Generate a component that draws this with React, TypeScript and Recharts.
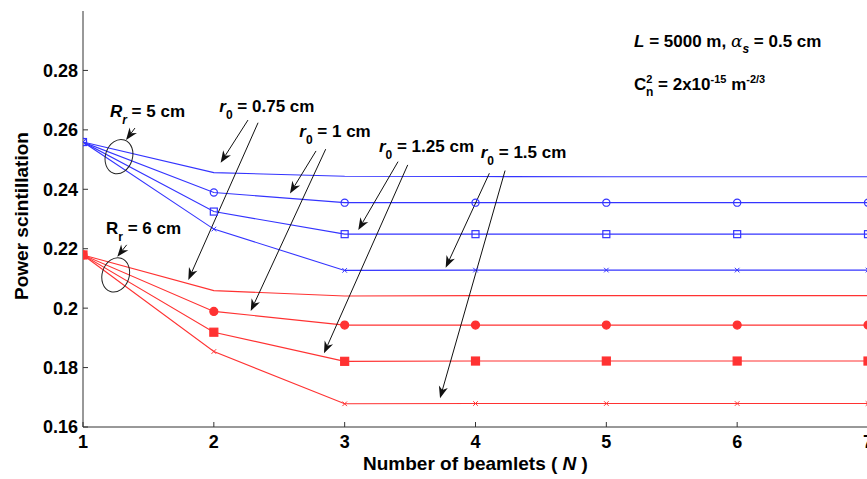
import React from 'react';
import { LineChart, Line, XAxis, YAxis, ReferenceLine, ReferenceDot } from 'recharts';

const FONT = '"Liberation Sans", Arial, Helvetica, sans-serif';
const BLUE = '#3434ff';
const RED = '#ff3232';
const INK = '#111111';

// ---- data ----
const beamlets = [1, 2, 3, 4, 5, 6, 7];
const xTicks = [1, 2, 3, 4, 5, 6, 7];
const yTicks = [0.16, 0.18, 0.2, 0.22, 0.24, 0.26, 0.28];

// Rr = 5 cm (blue)
const blueR075 = [0.2559, 0.2456, 0.2444, 0.2443, 0.2442, 0.2442, 0.2442];
const blueR1 = [0.2559, 0.2389, 0.2355, 0.2355, 0.2355, 0.2355, 0.2355];
const blueR125 = [0.2559, 0.2325, 0.2249, 0.2249, 0.2249, 0.2249, 0.2249];
const blueR15 = [0.2559, 0.2266, 0.2127, 0.2128, 0.2128, 0.2128, 0.2128];
// Rr = 6 cm (red)
const redR075 = [0.2179, 0.2059, 0.2041, 0.2042, 0.2042, 0.2042, 0.2042];
const redR1 = [0.2179, 0.1989, 0.1943, 0.1943, 0.1943, 0.1943, 0.1943];
const redR125 = [0.2179, 0.1919, 0.1821, 0.1822, 0.1822, 0.1822, 0.1822];
const redR15 = [0.2179, 0.1854, 0.1678, 0.1679, 0.1679, 0.1679, 0.1679];

// annotation arrows (data coordinates): start -> tip
const arrowStartN = [2.261, 2.338, 2.781, 2.855, 3.408, 3.482, 4.106, 4.226, 1.397, 1.334];
const arrowStartY = [0.2633, 0.2624, 0.2529, 0.2535, 0.2493, 0.2482, 0.2454, 0.2463, 0.2606, 0.2213];
const arrowTipN = [2.052, 1.805, 2.582, 2.282, 3.104, 2.842, 3.772, 3.729, 1.329, 1.262];
const arrowTipY = [0.2489, 0.2095, 0.2386, 0.199, 0.2263, 0.1848, 0.2136, 0.1697, 0.2566, 0.2173];

// ellipse centres (data coordinates)
const ellipseN = [1.275, 1.25];
const ellipseY = [0.251, 0.2112];

// r0 labels
const r0Values = ['0.75', '1', '1.25', '1.5'];
const r0LabelN = [2.042, 2.653, 3.262, 4.04];
const r0LabelY = [0.2661, 0.2575, 0.2527, 0.2504];

const data = beamlets.map((n, i) => ({
  n,
  b075: blueR075[i],
  b1: blueR1[i],
  b125: blueR125[i],
  b15: blueR15[i],
  r075: redR075[i],
  r1: redR1[i],
  r125: redR125[i],
  r15: redR15[i],
}));

type Kind = 'none' | 'circle' | 'square' | 'cross';

function makeDot(kind: Kind, color: string, filled: boolean, id: string) {
  return (props: any) => {
    const { cx, cy, index } = props;
    const key = `${id}-${index}`;
    if (kind === 'none' || cx == null || cy == null) return <g key={key} />;
    if (kind === 'circle') {
      return (
        <circle key={key} cx={cx} cy={cy} r={filled ? 4 : 3.6}
          fill={filled ? color : 'none'} stroke={color} strokeWidth={1.2} />
      );
    }
    if (kind === 'square') {
      const s = filled ? 8 : 7;
      return (
        <rect key={key} x={cx - s / 2} y={cy - s / 2} width={s} height={s}
          fill={filled ? color : 'none'} stroke={color} strokeWidth={1.2} />
      );
    }
    const d = 2.3;
    return (
      <path key={key} d={`M${cx - d},${cy - d}L${cx + d},${cy + d}M${cx - d},${cy + d}L${cx + d},${cy - d}`}
        stroke={color} strokeWidth={1} fill="none" />
    );
  };
}

const ArrowShape = (p: any) => {
  const { x1, y1, x2, y2 } = p;
  const dx = x2 - x1;
  const dy = y2 - y1;
  const len = Math.hypot(dx, dy) || 1;
  const ux = dx / len;
  const uy = dy / len;
  const nx = -uy;
  const ny = ux;
  const L = 12;
  const W = 4.6;
  const bx = x2 - ux * L;
  const by = y2 - uy * L;
  const mx = x2 - ux * L * 0.7;
  const my = y2 - uy * L * 0.7;
  const pts = `${x2},${y2} ${bx + nx * W},${by + ny * W} ${mx},${my} ${bx - nx * W},${by - ny * W}`;
  return (
    <g>
      <line x1={x1} y1={y1} x2={mx} y2={my} stroke={INK} strokeWidth={1} />
      <polygon points={pts} fill={INK} />
    </g>
  );
};

const EllipseShape = (p: any) => (
  <ellipse cx={p.cx} cy={p.cy} rx={13.5} ry={17.5} fill="none" stroke="#222" strokeWidth={1}
    transform={`rotate(18 ${p.cx} ${p.cy})`} />
);

const txt = { fontFamily: FONT, fontWeight: 'bold' as const, fontSize: 17, fill: '#000' };

const R0Label = (value: string) => (p: any) => (
  <text x={p.cx} y={p.cy} {...txt}>
    <tspan fontStyle="italic">r</tspan>
    <tspan fontSize={12} dy={7}>0</tspan>
    <tspan dy={-7}>{` = ${value} cm`}</tspan>
  </text>
);

const RrLabel = (value: string, italic: boolean) => (p: any) => (
  <text x={p.cx} y={p.cy} {...txt}>
    <tspan fontStyle={italic ? 'italic' : 'normal'}>R</tspan>
    <tspan fontSize={12} dy={7} fontStyle={italic ? 'italic' : 'normal'}>r</tspan>
    <tspan dy={-7}>{` = ${value} cm`}</tspan>
  </text>
);

const LLabel = (p: any) => (
  <text x={p.cx} y={p.cy} {...txt}>
    <tspan fontStyle="italic">L</tspan>
    <tspan>{' = 5000 m, '}</tspan>
    <tspan fontStyle="italic" fontFamily='"DejaVu Serif", "Liberation Serif", serif' fontWeight="normal">α</tspan>
    <tspan fontStyle="italic" fontSize={12} dy={6}>s</tspan>
    <tspan dy={-6}>{' = 0.5 cm'}</tspan>
  </text>
);

const CnLabel = (p: any) => (
  <text x={p.cx} y={p.cy} {...txt}>
    <tspan>C</tspan>
    <tspan fontSize={11} dy={-7}>2</tspan>
    <tspan fontSize={12} dx={-6.5} dy={13}>n</tspan>
    <tspan dy={-6}>{' = 2x10'}</tspan>
    <tspan fontSize={11} dy={-7}>-15</tspan>
    <tspan dy={7}>{' m'}</tspan>
    <tspan fontSize={11} dy={-7}>-2/3</tspan>
  </text>
);

const fmt = (v: number) => String(+v.toFixed(2));

export default function App() {
  return (
    <div style={{ position: 'absolute', left: 0, top: 0, width: 867, height: 479, overflow: 'hidden', background: '#fff' }}>
      <LineChart width={872} height={479} data={data} margin={{ top: 11, right: 4, left: 0, bottom: 0 }}>
        <XAxis dataKey="n" type="number" domain={[1, 7]} ticks={xTicks} interval={0} allowDataOverflow
          height={52} tickSize={-5} tickMargin={13} stroke="#333" strokeWidth={1}
          tick={{ fontFamily: FONT, fontWeight: 'bold', fontSize: 18, fill: '#000' }}
          label={{
            content: (lp: any) => {
              const vb = lp.viewBox || { x: 83, y: 427, width: 785, height: 52 };
              return (
                <text x={vb.x + vb.width / 2} y={470} textAnchor="middle" fontFamily={FONT} fontWeight="bold" fontSize={19} fill="#000">
                  <tspan>{'Number of beamlets ( '}</tspan>
                  <tspan fontStyle="italic">N</tspan>
                  <tspan>{' )'}</tspan>
                </text>
              );
            },
          }} />
        <XAxis xAxisId="top" orientation="top" dataKey="n" type="number" domain={[1, 7]} ticks={xTicks} interval={0}
          height={0} tickSize={-5} tick={false} stroke="#333" allowDataOverflow />
        <YAxis type="number" domain={[0.16, 0.3]} ticks={yTicks} interval={0} allowDataOverflow width={83}
          tickSize={-5} tickMargin={10} tickFormatter={fmt} stroke="#333"
          tick={{ fontFamily: FONT, fontWeight: 'bold', fontSize: 18, fill: '#000' }}
          label={{
            content: (lp: any) => {
              const vb = lp.viewBox || { x: 0, y: 11, width: 83, height: 416 };
              const cx = vb.x + 27.5;
              const cy = vb.y + vb.height / 2 - 3;
              return (
                <text x={cx} y={cy} textAnchor="middle" transform={`rotate(-90 ${cx} ${cy})`}
                  fontFamily={FONT} fontWeight="bold" fontSize={19} fill="#000">Power scintillation</text>
              );
            },
          }} />
        <YAxis yAxisId="right" orientation="right" type="number" domain={[0.16, 0.3]} ticks={yTicks} interval={0}
          width={0} tickSize={-5} tick={false} stroke="#333" allowDataOverflow />

        <Line type="linear" dataKey="b075" stroke={BLUE} strokeWidth={1.1} dot={makeDot('none', BLUE, false, 'b075')} activeDot={false} isAnimationActive={false} />
        <Line type="linear" dataKey="b15" stroke={BLUE} strokeWidth={1.1} dot={makeDot('cross', BLUE, false, 'b15')} activeDot={false} isAnimationActive={false} />
        <Line type="linear" dataKey="b1" stroke={BLUE} strokeWidth={1.1} dot={makeDot('circle', BLUE, false, 'b1')} activeDot={false} isAnimationActive={false} />
        <Line type="linear" dataKey="b125" stroke={BLUE} strokeWidth={1.1} dot={makeDot('square', BLUE, false, 'b125')} activeDot={false} isAnimationActive={false} />
        <Line type="linear" dataKey="r075" stroke={RED} strokeWidth={1.1} dot={makeDot('none', RED, true, 'r075')} activeDot={false} isAnimationActive={false} />
        <Line type="linear" dataKey="r15" stroke={RED} strokeWidth={1.1} dot={makeDot('cross', RED, true, 'r15')} activeDot={false} isAnimationActive={false} />
        <Line type="linear" dataKey="r1" stroke={RED} strokeWidth={1.1} dot={makeDot('circle', RED, true, 'r1')} activeDot={false} isAnimationActive={false} />
        <Line type="linear" dataKey="r125" stroke={RED} strokeWidth={1.1} dot={makeDot('square', RED, true, 'r125')} activeDot={false} isAnimationActive={false} />

        {arrowStartN.map((sn, i) => (
          <ReferenceLine key={`ar-${i}`} ifOverflow="visible"
            segment={[{ x: sn, y: arrowStartY[i] }, { x: arrowTipN[i], y: arrowTipY[i] }]}
            shape={ArrowShape} />
        ))}
        {ellipseN.map((en, i) => (
          <ReferenceDot key={`el-${i}`} x={en} y={ellipseY[i]} ifOverflow="visible" shape={EllipseShape} />
        ))}
        {r0Values.map((v, i) => (
          <ReferenceDot key={`r0-${i}`} x={r0LabelN[i]} y={r0LabelY[i]} ifOverflow="visible" shape={R0Label(v)} />
        ))}
        <ReferenceDot x={1.206} y={0.2644} ifOverflow="visible" shape={RrLabel('5', true)} />
        <ReferenceDot x={1.176} y={0.225} ifOverflow="visible" shape={RrLabel('6', false)} />
        <ReferenceDot x={5.212} y={0.288} ifOverflow="visible" shape={LLabel} />
        <ReferenceDot x={5.212} y={0.2734} ifOverflow="visible" shape={CnLabel} />
      </LineChart>
    </div>
  );
}
